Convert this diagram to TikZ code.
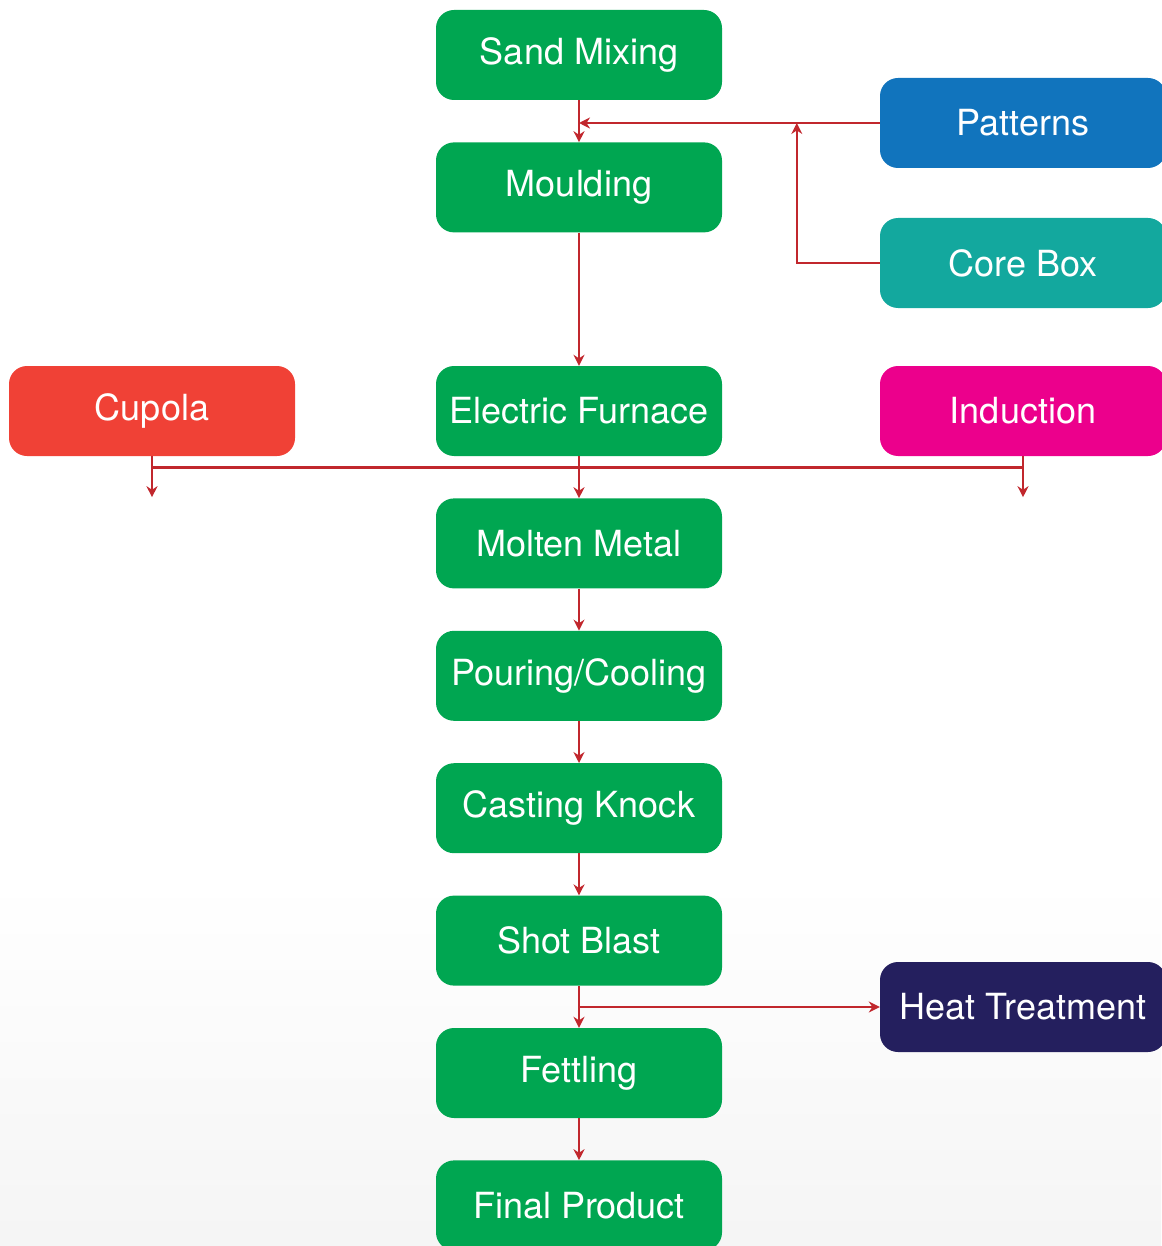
\documentclass[tikz,border=0pt]{standalone}
\usepackage{fontspec}
\setmainfont{TeX Gyre Heros}
\usepackage{tikz}
\usetikzlibrary{arrows.meta,positioning}
\usepackage{xcolor}

\definecolor{stepgreen}{HTML}{00A651}
\definecolor{patblue}{HTML}{1174BD}
\definecolor{coreteal}{HTML}{13A89E}
\definecolor{cupred}{HTML}{F04136}
\definecolor{indmagenta}{HTML}{EC008C}
\definecolor{heatnavy}{HTML}{241F5E}
\definecolor{linkred}{HTML}{C1272D}

\begin{document}
\begin{tikzpicture}[
        x=1pt, y=-1pt,
        node distance=42pt,
        box/.style={rectangle, rounded corners=18pt, minimum width=286pt, minimum height=90pt, inner sep=0pt, align=center, text=white, font=\fontsize{36}{40}\selectfont},
        green box/.style={box, fill=stepgreen},
        line/.style={draw=linkred, line width=2.6pt},
        arrow/.style={line, -{Stealth[length=11pt,width=11pt]}}
    ]
        \useasboundingbox (0,0) rectangle (1161,1246);
        \shade[top color=white, bottom color=black!4] (0,880) rectangle (1161,1246);

        % Main process column
        \node[green box] (sand) at (579,55) {Sand Mixing};
        \node[green box] (mould) [below=of sand] {Moulding};
        \node[green box] (furnace) at (579,411) {Electric Furnace};
        \node[green box] (molten) [below=of furnace] {Molten Metal};
        \node[green box] (pouring) [below=of molten] {Pouring/Cooling};
        \node[green box] (knock) [below=of pouring] {Casting Knock};
        \node[green box] (shot) [below=of knock] {Shot Blast};
        \node[green box] (fettling) [below=of shot] {Fettling};
        \node[green box] (final) [below=of fettling] {Final Product};

        % Side inputs
        \node[box, fill=patblue] (patterns) at (1023,123) {Patterns};
        \node[box, fill=coreteal] (corebox) at (1023,263) {Core Box};
        \node[box, fill=cupred] (cupola) at (152,411) {Cupola};
        \node[box, fill=indmagenta] (induction) at (1023,411) {Induction};
        \node[box, fill=heatnavy] (heat) at (1023,1007) {Heat Treatment};

        % Arrows
        \draw[arrow] (sand) -- (mould);
        \draw[arrow] (patterns.west) -- (patterns.west -| sand.south);
        \draw[arrow] (corebox.west) -| ([xshift=-83pt]patterns.west);
        \draw[arrow] (mould) -- (furnace);

        % Melting line
        \draw[line] ([yshift=-11pt]cupola.south) -- ([yshift=-11pt]induction.south);
        \draw[arrow] (cupola.south) -- ++(0,41);
        \draw[arrow] (induction.south) -- ++(0,41);
        \draw[arrow] (furnace) -- (molten);

        \draw[arrow] (molten) -- (pouring);
        \draw[arrow] (pouring) -- (knock);
        \draw[arrow] (knock) -- (shot);
        \draw[arrow] (shot) -- (fettling);
        \draw[arrow] (shot.south |- heat.west) -- (heat.west);
        \draw[arrow] (fettling) -- (final);

    \end{tikzpicture}
\end{document}
